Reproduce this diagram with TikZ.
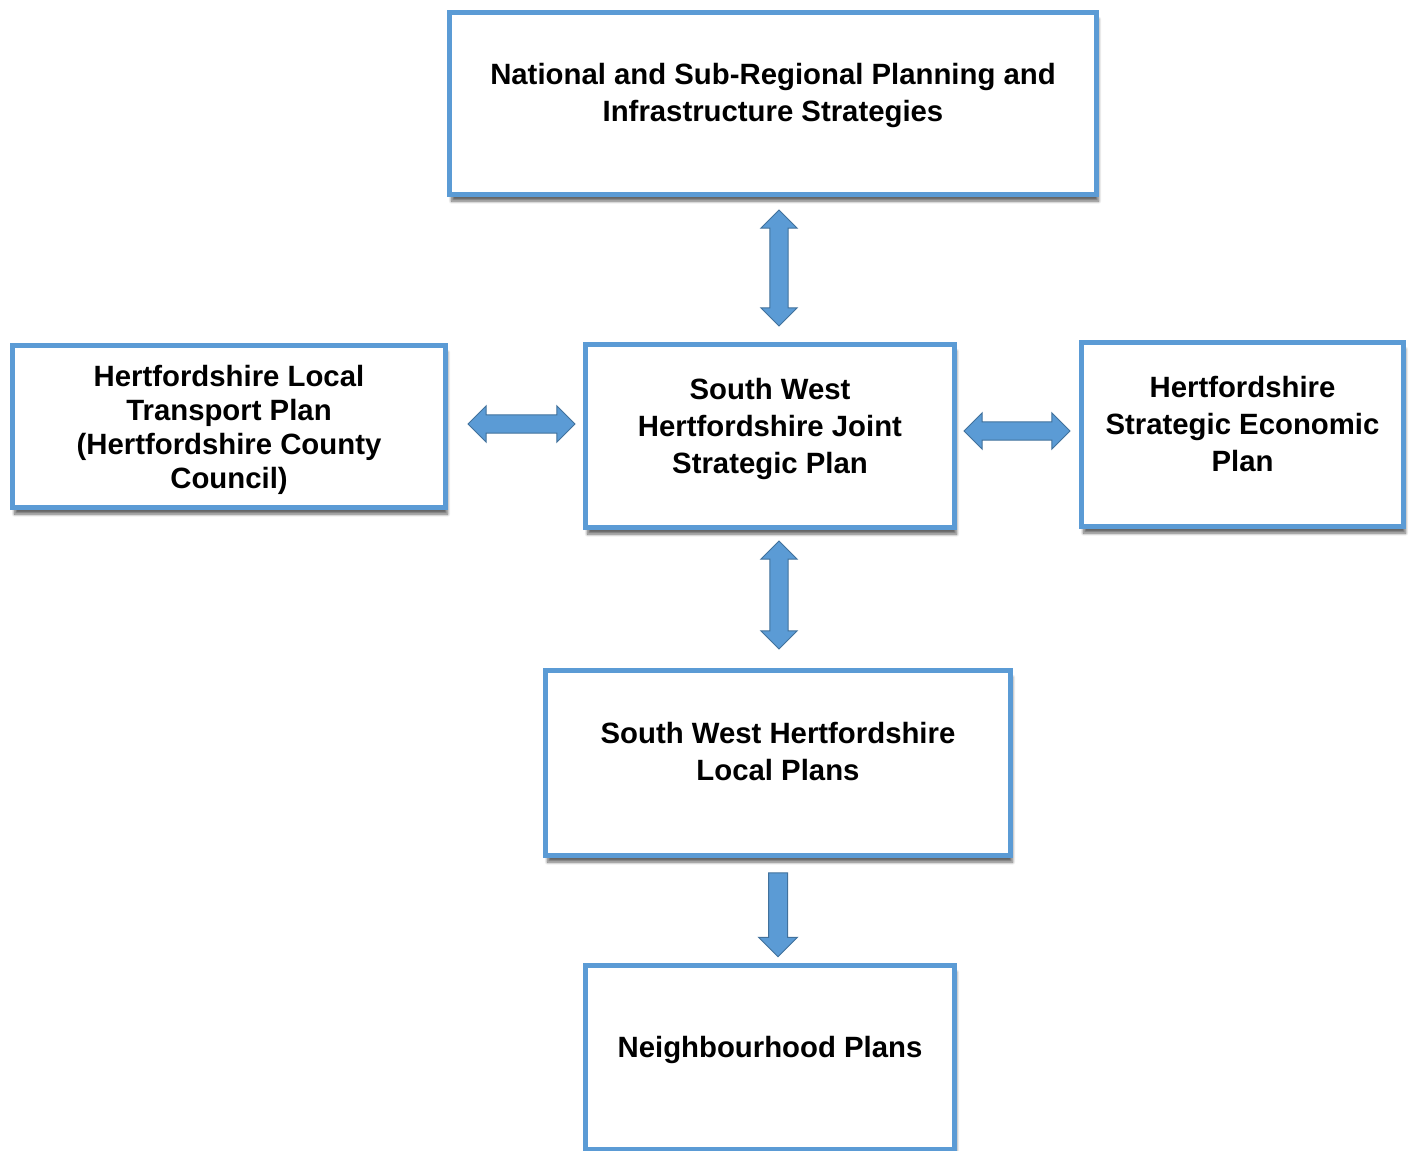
\documentclass[tikz,border=0pt]{standalone}
\usepackage{fontspec}
\setmainfont{Liberation Sans}
\usepackage{xcolor}
\usetikzlibrary{shapes.arrows,shadows.blur}
\definecolor{boxblue}{HTML}{5B9BD5}
\definecolor{arrowedge}{HTML}{41719C}
\tikzset{
    plan-box/.style = {draw=boxblue, fill=white, line width=3.75pt, rectangle, inner sep=0pt, blur shadow={shadow xshift=1.5pt, shadow yshift=-5pt, shadow blur steps=8, shadow opacity=60}},
    plan-text/.style = {align=center, font=\bfseries\fontsize{22}{27.75}\selectfont},
    both-arrow/.style = {double arrow, fill=boxblue, draw=arrowedge, line width=0.75pt, inner xsep=0pt, inner ysep=6.5pt, double arrow head extend=6.75pt},
    down-arrow/.style = {single arrow, fill=boxblue, draw=arrowedge, line width=0.75pt, inner xsep=0pt, inner ysep=6.75pt, single arrow head extend=7.5pt},
}

\begin{document}
\begin{tikzpicture}[x=0.75pt, y=-0.75pt]
\useasboundingbox (0,0) rectangle (1413,1151);
% boxes
\node [plan-box, minimum width=485.25pt, minimum height=136.5pt] (national) at (773,103.5) {};
\node [plan-box, minimum width=324.75pt, minimum height=121.5pt] (transport) at (229,426.5) {};
\node [plan-box, minimum width=276.75pt, minimum height=137.25pt] (joint) at (770,436) {};
\node [plan-box, minimum width=241.5pt, minimum height=138pt] (economic) at (1242.5,434.5) {};
\node [plan-box, minimum width=348.75pt, minimum height=138.75pt] (local) at (778,763) {};
\node [plan-box, minimum width=276.75pt, minimum height=138pt] (neighbourhood) at (770,1057.5) {};
% texts
\node [plan-text, yshift=6pt] (national-text) at (national) {National and Sub-Regional Planning and\\Infrastructure Strategies};
\node [plan-text, yshift=-2.25pt, font=\bfseries\fontsize{22}{25.5}\selectfont] (transport-text) at (transport) {Hertfordshire Local\\Transport Plan\\(Hertfordshire County\\Council)};
\node [plan-text, yshift=5pt] (joint-text) at (joint) {South West\\Hertfordshire Joint\\Strategic Plan};
\node [plan-text, yshift=8pt] (economic-text) at (economic) {Hertfordshire\\Strategic Economic\\Plan};
\node [plan-text, yshift=8.5pt] (local-text) at (local) {South West Hertfordshire\\Local Plans};
\node [plan-text, yshift=5.75pt] (neighbourhood-text) at (neighbourhood) {Neighbourhood Plans};
% arrows
\node [both-arrow, rotate=90, minimum height=87pt] (national-joint) at (779,268) {};
\node [both-arrow, minimum height=80.25pt] (transport-joint) at (521.5,424) {};
\node [both-arrow, minimum height=79.5pt] (joint-economic) at (1017,431) {};
\node [both-arrow, rotate=90, minimum height=81pt] (joint-local) at (779,595) {};
\node [down-arrow, rotate=-90, minimum height=63pt] (local-neighbourhood) at (778,910) {};
\end{tikzpicture}
\end{document}
